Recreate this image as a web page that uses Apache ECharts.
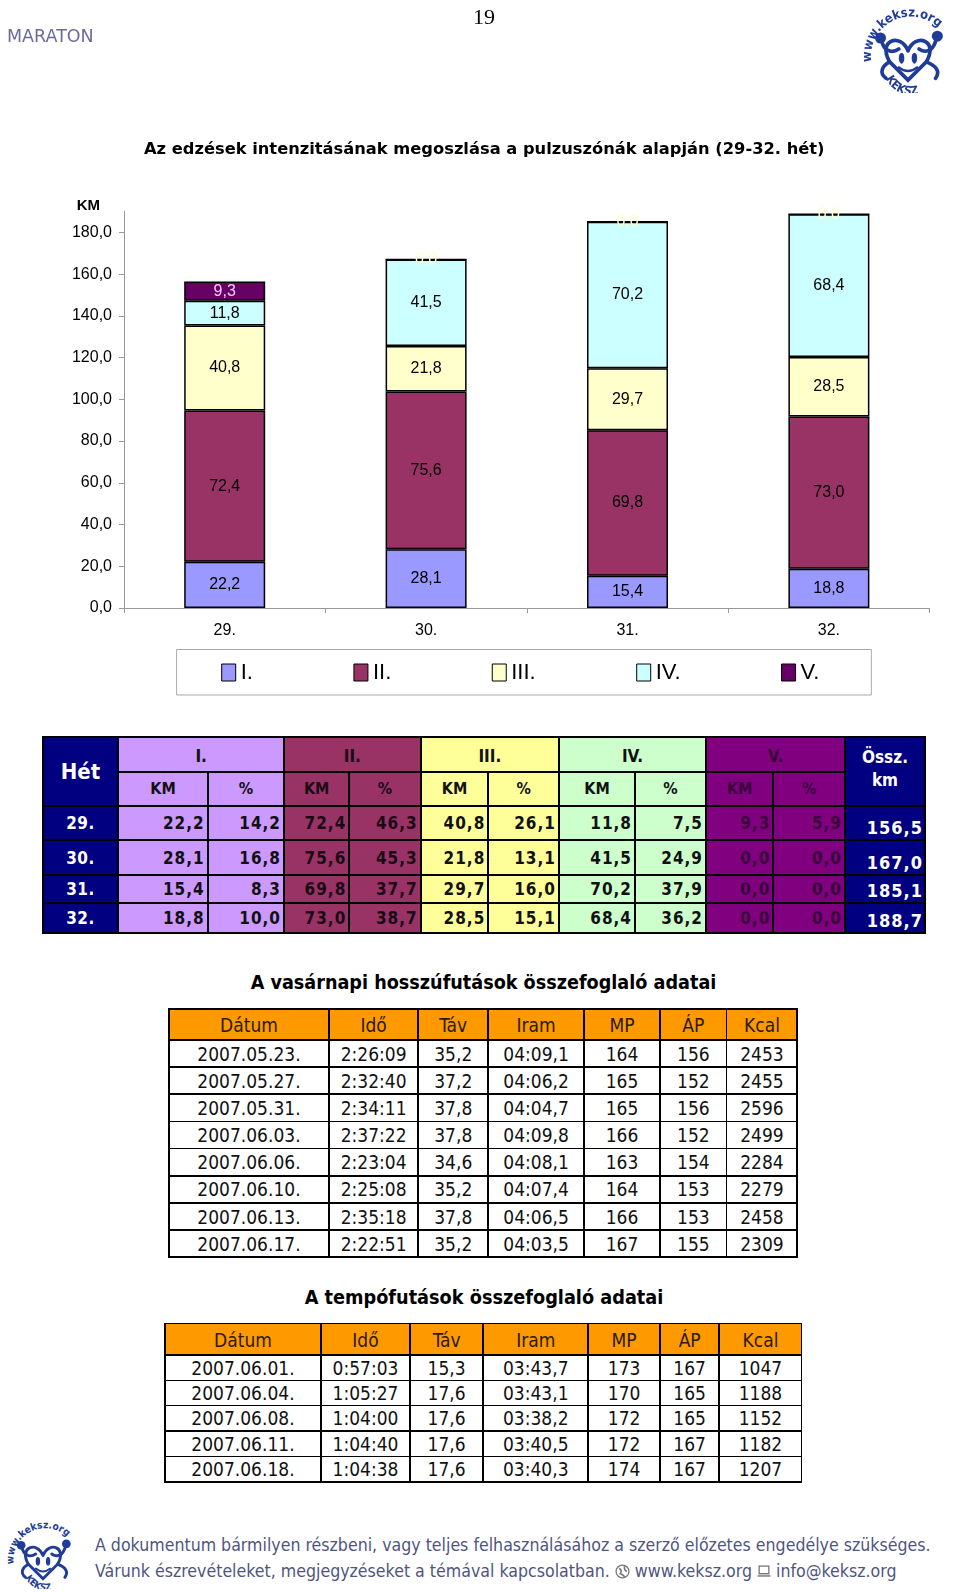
<!DOCTYPE html>
<html><head><meta charset="utf-8">
<script src="https://cdn.jsdelivr.net/npm/echarts@6/dist/echarts.min.js"></script>
<style>
html,body{margin:0;padding:0;background:#fff;}
body{width:960px;height:1592px;position:relative;overflow:hidden;}
.abs{position:absolute;}
.cell{position:absolute;display:flex;align-items:center;box-sizing:border-box;white-space:nowrap;}
.txt{position:absolute;white-space:nowrap;}
</style></head><body>
<div id="chart" class="abs" style="left:0;top:0;width:960px;height:700px"></div>

<div class="txt" style="left:7px;top:26px;font:17.5px 'DejaVu Sans',sans-serif;color:#6b6b9b;line-height:20px">MARATON</div>
<div class="txt" style="left:464px;top:4px;width:40px;text-align:center;font:22px 'Liberation Serif','Times New Roman',serif;color:#000;line-height:26px">19</div>

<svg class="abs" style="left:862px;top:5px" width="92" height="88" viewBox="0 0 100 96">
  <defs>
    <path id="arcTop1" d="M 10 62 A 42 42 0 0 1 96 50"/>
    <path id="arcBot1" d="M 26 80 A 30 30 0 0 0 80 82"/>
  </defs>
  <g fill="none" stroke="#1f3c98" stroke-width="4" stroke-linecap="round">
    <path d="M 50 50 C 42 30, 16 38, 30 62 L 50 82 L 70 62 C 84 38, 58 30, 50 50"/>
    <path d="M 22 42 C 26 52, 34 52, 40 48"/>
    <path d="M 80 40 C 76 52, 68 52, 62 48"/>
    <path d="M 30 62 C 22 66, 18 74, 26 80"/>
    <path d="M 70 62 C 80 66, 86 72, 80 80"/>
    <path d="M 40 68 Q 50 76 60 68" stroke-width="2.5"/>
  </g>
  <g fill="#1f3c98">
    <circle cx="20" cy="36" r="6"/>
    <circle cx="82" cy="34" r="6"/>
    <ellipse cx="43" cy="58" rx="3" ry="6"/>
    <ellipse cx="57" cy="58" rx="3" ry="6"/>
  </g>
  <text font-family="DejaVu Sans Condensed, DejaVu Sans" font-weight="bold" font-size="14" fill="#1f3c98"><textPath href="#arcTop1">www.keksz.org</textPath></text>
  <text font-family="DejaVu Sans Condensed, DejaVu Sans" font-weight="bold" font-size="13" fill="#1f3c98"><textPath href="#arcBot1">KEKSZ</textPath></text>
</svg>

<div class="txt" style="left:0;width:967px;text-align:center;top:970.5px;font:bold condensed 19.6px 'DejaVu Sans Condensed','DejaVu Sans',sans-serif;line-height:24px;color:#000">A vasárnapi hosszúfutások összefoglaló adatai</div>
<div class="txt" style="left:0;width:968px;text-align:center;top:1285.5px;font:bold condensed 19.7px 'DejaVu Sans Condensed','DejaVu Sans',sans-serif;line-height:24px;color:#000">A tempófutások összefoglaló adatai</div>

<svg class="abs" style="left:5px;top:1519px" width="76" height="70" viewBox="0 0 100 96">
  <defs>
    <path id="arcTop2" d="M 10 62 A 42 42 0 0 1 96 50"/>
    <path id="arcBot2" d="M 26 80 A 30 30 0 0 0 80 82"/>
  </defs>
  <g fill="none" stroke="#1f3c98" stroke-width="4" stroke-linecap="round">
    <path d="M 50 50 C 42 30, 16 38, 30 62 L 50 82 L 70 62 C 84 38, 58 30, 50 50"/>
    <path d="M 22 42 C 26 52, 34 52, 40 48"/>
    <path d="M 80 40 C 76 52, 68 52, 62 48"/>
    <path d="M 30 62 C 22 66, 18 74, 26 80"/>
    <path d="M 70 62 C 80 66, 86 72, 80 80"/>
    <path d="M 40 68 Q 50 76 60 68" stroke-width="2.5"/>
  </g>
  <g fill="#1f3c98">
    <circle cx="20" cy="36" r="6"/>
    <circle cx="82" cy="34" r="6"/>
    <ellipse cx="43" cy="58" rx="3" ry="6"/>
    <ellipse cx="57" cy="58" rx="3" ry="6"/>
  </g>
  <text font-family="DejaVu Sans Condensed, DejaVu Sans" font-weight="bold" font-size="14" fill="#1f3c98"><textPath href="#arcTop2">www.keksz.org</textPath></text>
  <text font-family="DejaVu Sans Condensed, DejaVu Sans" font-weight="bold" font-size="13" fill="#1f3c98"><textPath href="#arcBot2">KEKSZ</textPath></text>
</svg>

<div class="txt" style="left:95px;top:1533.5px;font:condensed 17.6px 'DejaVu Sans Condensed','DejaVu Sans',sans-serif;line-height:22px;color:#4f5580">A dokumentum bármilyen részbeni, vagy teljes felhasználásához a szerző előzetes engedélye szükséges.</div>
<div class="txt" style="left:95px;top:1560px;font:condensed 17.6px 'DejaVu Sans Condensed','DejaVu Sans',sans-serif;line-height:22px;color:#4f5580">Várunk észrevételeket, megjegyzéseket a témával kapcsolatban. <svg width="15" height="15" viewBox="0 0 14 14" style="vertical-align:-2px"><circle cx="7" cy="7" r="6" fill="none" stroke="#777" stroke-width="1.2"/><path d="M4 4 Q7 6 5 9 Q8 10 9 12 M9 2 Q8 5 11 7" fill="none" stroke="#777" stroke-width="1.5"/></svg> www.keksz.org <svg width="14" height="13" viewBox="0 0 13 12" style="vertical-align:-1px"><rect x="2" y="1" width="9" height="7" fill="none" stroke="#777" stroke-width="1.2"/><rect x="0.5" y="9" width="12" height="2" fill="#999"/></svg> info@keksz.org</div>

<script>
// ---------- data ----------
const weeks = ['29.', '30.', '31.', '32.'];
const zones = ['I.', 'II.', 'III.', 'IV.', 'V.'];
const kmI   = [22.2, 28.1, 15.4, 18.8];
const kmII  = [72.4, 75.6, 69.8, 73.0];
const kmIII = [40.8, 21.8, 29.7, 28.5];
const kmIV  = [11.8, 41.5, 70.2, 68.4];
const kmV   = [9.3, 0.0, 0.0, 0.0];
const pctI   = [14.2, 16.8, 8.3, 10.0];
const pctII  = [46.3, 45.3, 37.7, 38.7];
const pctIII = [26.1, 13.1, 16.0, 15.1];
const pctIV  = [7.5, 24.9, 37.9, 36.2];
const pctV   = [5.9, 0.0, 0.0, 0.0];
const totalKm = [156.5, 167.0, 185.1, 188.7];

const runHeaders = ['Dátum', 'Idő', 'Táv', 'Iram', 'MP', 'ÁP', 'Kcal'];
const longDate = ['2007.05.23.', '2007.05.27.', '2007.05.31.', '2007.06.03.', '2007.06.06.', '2007.06.10.', '2007.06.13.', '2007.06.17.'];
const longTime = ['2:26:09', '2:32:40', '2:34:11', '2:37:22', '2:23:04', '2:25:08', '2:35:18', '2:22:51'];
const longDist = ['35,2', '37,2', '37,8', '37,8', '34,6', '35,2', '37,8', '35,2'];
const longPace = ['04:09,1', '04:06,2', '04:04,7', '04:09,8', '04:08,1', '04:07,4', '04:06,5', '04:03,5'];
const longMP   = [164, 165, 165, 166, 163, 164, 166, 167];
const longAP   = [156, 152, 156, 152, 154, 153, 153, 155];
const longKcal = [2453, 2455, 2596, 2499, 2284, 2279, 2458, 2309];

const tempoDate = ['2007.06.01.', '2007.06.04.', '2007.06.08.', '2007.06.11.', '2007.06.18.'];
const tempoTime = ['0:57:03', '1:05:27', '1:04:00', '1:04:40', '1:04:38'];
const tempoDist = ['15,3', '17,6', '17,6', '17,6', '17,6'];
const tempoPace = ['03:43,7', '03:43,1', '03:38,2', '03:40,5', '03:40,3'];
const tempoMP   = [173, 170, 172, 172, 174];
const tempoAP   = [167, 165, 165, 167, 167];
const tempoKcal = [1047, 1188, 1152, 1182, 1207];

// ---------- chart ----------
const fmt = v => Number(v).toFixed(1).replace('.', ',');
const kmSeries = [kmI, kmII, kmIII, kmIV, kmV];
const barColors = ['#9999FF', '#993366', '#FFFFCC', '#CCFFFF', '#660066'];
const barLabelColors = ['#000', '#000', '#000', '#000', '#FFCCFF'];
const AR = "'Liberation Sans', Arial, sans-serif";

const chart = echarts.init(document.getElementById('chart'), null, {renderer: 'canvas'});
chart.setOption({
  animation: false,
  title: {
    text: 'Az edzések intenzitásának megoszlása a pulzuszónák alapján (29-32. hét)',
    left: 139, top: 137,
    textStyle: {fontFamily: "'DejaVu Sans', sans-serif", fontWeight: 'bold', fontSize: 16.3, color: '#000'}
  },
  grid: {left: 124, right: 30.4, top: 211.5, bottom: 92, containLabel: false, outerBoundsMode: 'none'},
  legend: {
    data: zones, left: 176.6, top: 649.5, orient: 'horizontal',
    icon: 'rect', itemWidth: 14, itemHeight: 17, itemGap: 100.5,
    padding: [12, 52, 11.5, 44.6],
    borderColor: '#aaa', borderWidth: 1, borderRadius: 0,
    textStyle: {fontFamily: AR, fontSize: 22, color: '#000'},
    itemStyle: {borderColor: '#000', borderWidth: 1},
    selectedMode: false
  },
  xAxis: {
    type: 'category', data: weeks,
    axisLine: {show: true, lineStyle: {color: '#999', width: 1}},
    axisTick: {show: true, length: 5, alignWithLabel: false, lineStyle: {color: '#999'}},
    axisLabel: {fontFamily: AR, fontSize: 16, color: '#000', margin: 15},
    splitLine: {show: false}
  },
  yAxis: {
    type: 'value', min: 0, max: 190, interval: 20,
    name: 'KM', nameLocation: 'end', nameGap: 6,
    nameTextStyle: {fontFamily: AR, fontSize: 15, fontWeight: 'bold', color: '#000', align: 'right', verticalAlign: 'middle', padding: [0, 24, 0, 0]},
    axisLine: {show: true, lineStyle: {color: '#999', width: 1}},
    axisTick: {show: true, length: 5, lineStyle: {color: '#999'}},
    axisLabel: {fontFamily: AR, fontSize: 16, color: '#000', margin: 12, showMaxLabel: false,
      formatter: v => (v > 180 ? '' : fmt(v))},
    splitLine: {show: false}
  },
  series: zones.map((z, i) => ({
    name: z, type: 'bar', stack: 'km', barWidth: 81,
    data: kmSeries[i].map(v => (v === 0 ? {value: v, label: {color: '#FFFFCC'}} : v)),
    itemStyle: {color: barColors[i], borderColor: '#000', borderWidth: 1.5},
    label: {show: true, position: 'inside', fontFamily: AR, fontSize: 16, color: barLabelColors[i],
      formatter: p => fmt(p.value)},
    emphasis: {disabled: true}
  }))
});

// ---------- tables ----------
function drawGrid(xs, ys, cells, lw) {
  const h = lw / 2;
  const wrap = document.createElement('div');
  wrap.className = 'abs';
  Object.assign(wrap.style, {
    left: (xs[0] - h) + 'px', top: (ys[0] - h) + 'px',
    width: (xs[xs.length - 1] - xs[0] + lw) + 'px', height: (ys[ys.length - 1] - ys[0] + lw) + 'px',
    background: '#000'
  });
  cells.forEach(c => {
    const cs = c.cs || 1, rs = c.rs || 1;
    const x0 = xs[c.c], x1 = xs[c.c + cs], y0 = ys[c.r], y1 = ys[c.r + rs];
    const d = document.createElement('div');
    d.className = 'cell';
    Object.assign(d.style, {
      left: (x0 - xs[0] + lw) + 'px', top: (y0 - ys[0] + lw) + 'px',
      width: (x1 - x0 - lw) + 'px', height: (y1 - y0 - lw) + 'px',
      background: c.bg, color: c.color, font: c.font,
      justifyContent: c.align || 'center', alignItems: c.valign || 'center',
      padding: c.pad || '0', letterSpacing: c.ls || 'normal',
      lineHeight: c.lh || 'normal', whiteSpace: c.ws || 'nowrap', textAlign: 'center'
    });
    d.textContent = c.text;
    wrap.appendChild(d);
  });
  document.body.appendChild(wrap);
}

const CF = "'DejaVu Sans Condensed','DejaVu Sans',sans-serif";
const NAVY = '#000080';
const grpBg = ['#CC99FF', '#993366', '#FFFF99', '#CCFFCC', '#800080'];
const grpFg = ['#111', '#1a0a14', '#111', '#111', '#3a003a'];
const pctSeries = [pctI, pctII, pctIII, pctIV, pctV];

// table 1
(function () {
  const xs = [42.7, 118.3, 207.7, 284, 349.3, 420.7, 488.3, 559, 635, 706, 773.3, 845, 925];
  const ys = [736.7, 771.7, 806, 840.3, 875, 903.3, 932.7];
  const cells = [];
  cells.push({r: 0, c: 0, rs: 2, text: 'Hét', bg: NAVY, color: '#fff', font: `bold condensed 22px ${CF}`});
  zones.forEach((z, g) => {
    cells.push({r: 0, c: 1 + 2 * g, cs: 2, text: z, bg: grpBg[g], color: grpFg[g], font: `bold condensed 17px ${CF}`, pad: '4px 0 0 0'});
    cells.push({r: 1, c: 1 + 2 * g, text: 'KM', bg: grpBg[g], color: grpFg[g], font: `bold condensed 16px ${CF}`});
    cells.push({r: 1, c: 2 + 2 * g, text: '%', bg: grpBg[g], color: grpFg[g], font: `bold condensed 16px ${CF}`});
  });
  cells.push({r: 0, c: 11, rs: 2, text: 'Össz.\nkm', bg: NAVY, color: '#fff', font: `bold condensed 17px ${CF}`, ws: 'pre', lh: '23px', valign: 'flex-start', pad: '8px 0 0 0'});
  weeks.forEach((w, i) => {
    cells.push({r: 2 + i, c: 0, text: w, bg: NAVY, color: '#fff', font: `bold condensed 17px ${CF}`, ls: '0.5px'});
    zones.forEach((z, g) => {
      cells.push({r: 2 + i, c: 1 + 2 * g, text: fmt(kmSeries[g][i]), bg: grpBg[g], color: grpFg[g], font: `bold condensed 17px ${CF}`, align: 'flex-end', pad: '0 2px 0 0', ls: '1px'});
      cells.push({r: 2 + i, c: 2 + 2 * g, text: fmt(pctSeries[g][i]), bg: grpBg[g], color: grpFg[g], font: `bold condensed 17px ${CF}`, align: 'flex-end', pad: '0 2px 0 0', ls: '1px'});
    });
    cells.push({r: 2 + i, c: 11, text: fmt(totalKm[i]), bg: NAVY, color: '#fff', font: `bold condensed 18px ${CF}`, align: 'flex-end', valign: 'flex-end', pad: '0 1px 1px 0', ls: '1px', lh: '21px'});
  });
  drawGrid(xs, ys, cells, 2);
})();

function runTable(xs, yTop, headH, rowH, cols) {
  const n = cols[0].length;
  const ys = [yTop, yTop + headH];
  for (let i = 1; i <= n; i++) ys.push(yTop + headH + rowH * i);
  const cells = [];
  runHeaders.forEach((h, c) => cells.push({r: 0, c, text: h, bg: '#FF9900', color: '#2a1a00', font: `condensed 19px ${CF}`, pad: '2px 0 0 0'}));
  for (let r = 0; r < n; r++) {
    cols.forEach((col, c) => cells.push({r: r + 1, c, text: String(col[r]), bg: '#fff', color: '#111', font: `condensed 19px ${CF}`}));
  }
  drawGrid(xs, ys, cells, 1.6);
}
runTable([169, 329, 418.3, 488.3, 584, 660, 726.7, 797.3], 1009, 31, 27.16,
  [longDate, longTime, longDist, longPace, longMP, longAP, longKcal]);
runTable([165, 321, 410, 483.3, 588.3, 660, 719.3, 801.7], 1323.3, 31.7, 25.34,
  [tempoDate, tempoTime, tempoDist, tempoPace, tempoMP, tempoAP, tempoKcal]);
</script>
</body></html>
